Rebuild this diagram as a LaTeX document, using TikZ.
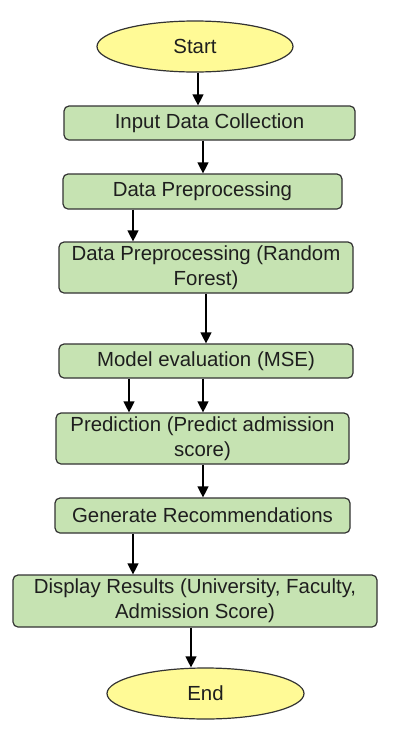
\documentclass[tikz,border=0pt]{standalone}
\usepackage{fontspec}
\setmainfont{Liberation Sans}
\usetikzlibrary{shapes.geometric,arrows.meta}
\definecolor{boxgreen}{HTML}{C6E3B2}
\definecolor{ovalyellow}{HTML}{FFFA96}
\definecolor{edge}{HTML}{333333}
\definecolor{txt}{HTML}{1E1E1E}
\begin{document}
\begin{tikzpicture}[x=1pt,y=-1pt,
  every node/.style={font=\fontsize{20.4}{25}\selectfont, text=txt, inner sep=0pt, align=center},
  procbox/.style={draw=edge, line width=1.2pt, fill=boxgreen, rectangle, rounded corners=5pt},
  terminal/.style={draw=edge, line width=1.2pt, fill=ovalyellow, ellipse},
  arr/.style={draw=black, line width=1.3pt, -{Triangle[width=11pt,length=11pt]}}]
\useasboundingbox (0,0) rectangle (402,737);
\fill[white] (0,0) rectangle (402,737);

\node[terminal, minimum width=196pt, minimum height=51pt] (start) at (195,46.5) {Start};
\node[procbox, minimum width=291pt, minimum height=34pt] (input) at (209.5,123) {Input Data Collection};
\node[procbox, minimum width=279pt, minimum height=35pt] (dp) at (202.5,191.5) {Data Preprocessing};
\node[procbox, minimum width=294pt, minimum height=51pt] (rf) at (206,267.5) {Data Preprocessing (Random\\Forest)};
\node[procbox, minimum width=294pt, minimum height=34pt] (me) at (206,361) {Model evaluation (MSE)};
\node[procbox, minimum width=293pt, minimum height=51pt] (pred) at (202.5,438.5) {Prediction (Predict admission\\score)};
\node[procbox, minimum width=295pt, minimum height=35pt] (gen) at (202.5,515.5) {Generate Recommendations};
\node[procbox, minimum width=364pt, minimum height=52pt] (disp) at (195,601) {Display Results (University, Faculty,\\Admission Score)};
\node[terminal, minimum width=197pt, minimum height=51pt] (end) at (205.5,693.5) {End};

\coordinate (a1) at (198,0);
\coordinate (a2) at (203,0);
\coordinate (a3) at (133,0);
\coordinate (a4) at (206,0);
\coordinate (a5) at (129,0);
\coordinate (a6) at (191,0);

\draw[arr] (start.south -| a1) -- (input.north -| a1);
\draw[arr] (input.south -| a2) -- (dp.north -| a2);
\draw[arr] (dp.south -| a3) -- (rf.north -| a3);
\draw[arr] (rf.south -| a4) -- (me.north -| a4);
\draw[arr] (me.south -| a5) -- (pred.north -| a5);
\draw[arr] (me.south -| a2) -- (pred.north -| a2);
\draw[arr] (pred.south -| a2) -- (gen.north -| a2);
\draw[arr] (gen.south -| a3) -- (disp.north -| a3);
\draw[arr] (disp.south -| a6) -- (end.north -| a6);
\end{tikzpicture}
\end{document}
